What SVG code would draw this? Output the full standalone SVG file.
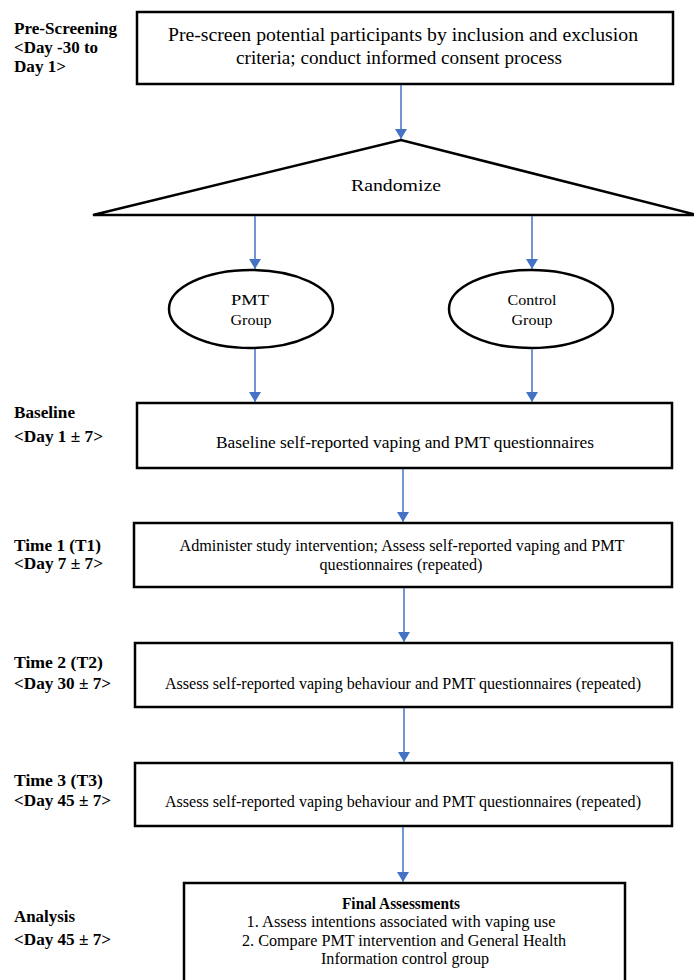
<svg xmlns="http://www.w3.org/2000/svg" width="694" height="980" viewBox="0 0 694 980">
<defs>
<style>
.box{fill:#fff;stroke:#000;stroke-width:2.5}
.t{font-family:"Liberation Serif","Times New Roman",serif;fill:#000;text-anchor:middle}
.lbl{font-family:"Liberation Serif","Times New Roman",serif;font-weight:bold;font-size:16px;fill:#000}
.c{stroke:#4472C4;stroke-width:1.5;fill:none;marker-end:url(#ah)}
</style>
<marker id="ah" viewBox="0 0 10 12" refX="10" refY="6" markerWidth="10" markerHeight="12" markerUnits="userSpaceOnUse" orient="auto">
<path d="M0,0 L10,6 L0,12 Z" fill="#4472C4"/>
</marker>
</defs>
<rect width="694" height="980" fill="#fff"/>

<g id="labels">
<text class="lbl" x="14" y="34" textLength="103" lengthAdjust="spacingAndGlyphs">Pre-Screening</text>
<text class="lbl" x="14" y="53" textLength="84" lengthAdjust="spacingAndGlyphs">&lt;Day -30 to</text>
<text class="lbl" x="14" y="72" textLength="52" lengthAdjust="spacingAndGlyphs">Day 1&gt;</text>
<text class="lbl" x="14" y="418" textLength="61" lengthAdjust="spacingAndGlyphs">Baseline</text>
<text class="lbl" x="14" y="442" textLength="89" lengthAdjust="spacingAndGlyphs">&lt;Day 1 ± 7&gt;</text>
<text class="lbl" x="14" y="551" textLength="87" lengthAdjust="spacingAndGlyphs">Time 1 (T1)</text>
<text class="lbl" x="14" y="569" textLength="89" lengthAdjust="spacingAndGlyphs">&lt;Day 7 ± 7&gt;</text>
<text class="lbl" x="14" y="668" textLength="89" lengthAdjust="spacingAndGlyphs">Time 2 (T2)</text>
<text class="lbl" x="14" y="689" textLength="97" lengthAdjust="spacingAndGlyphs">&lt;Day 30 ± 7&gt;</text>
<text class="lbl" x="14" y="786" textLength="89" lengthAdjust="spacingAndGlyphs">Time 3 (T3)</text>
<text class="lbl" x="14" y="806" textLength="97" lengthAdjust="spacingAndGlyphs">&lt;Day 45 ± 7&gt;</text>
<text class="lbl" x="14" y="922" textLength="61" lengthAdjust="spacingAndGlyphs">Analysis</text>
<text class="lbl" x="14" y="945" textLength="97" lengthAdjust="spacingAndGlyphs">&lt;Day 45 ± 7&gt;</text>
</g>

<g id="prescreen">
<rect class="box" x="137" y="12" width="536" height="72"/>
<text class="t" x="403" y="41" font-size="18" textLength="470" lengthAdjust="spacingAndGlyphs">Pre-screen potential participants by inclusion and exclusion</text>
<text class="t" x="399" y="64" font-size="18" textLength="326" lengthAdjust="spacingAndGlyphs">criteria; conduct informed consent process</text>
</g>

<g id="randomize">
<polygon points="93,215 401,140 697,215" fill="#fff" stroke="#000" stroke-width="2.5" stroke-linejoin="miter"/>
<text class="t" x="396" y="191" font-size="17" textLength="90" lengthAdjust="spacingAndGlyphs">Randomize</text>
</g>

<g id="pmt">
<ellipse cx="251" cy="309" rx="82" ry="39" fill="#fff" stroke="#000" stroke-width="2.5"/>
<text class="t" x="250" y="305" font-size="15" textLength="38" lengthAdjust="spacingAndGlyphs">PMT</text>
<text class="t" x="251" y="325" font-size="15" textLength="41" lengthAdjust="spacingAndGlyphs">Group</text>
</g>

<g id="control">
<ellipse cx="531" cy="309" rx="82" ry="39" fill="#fff" stroke="#000" stroke-width="2.5"/>
<text class="t" x="532" y="305" font-size="15" textLength="49" lengthAdjust="spacingAndGlyphs">Control</text>
<text class="t" x="532" y="325" font-size="15" textLength="41" lengthAdjust="spacingAndGlyphs">Group</text>
</g>

<g id="baseline">
<rect class="box" x="137" y="403" width="535" height="65"/>
<text class="t" x="405" y="448" font-size="16" textLength="378" lengthAdjust="spacingAndGlyphs">Baseline self-reported vaping and PMT questionnaires</text>
</g>

<g id="t1">
<rect class="box" x="134" y="523" width="538" height="64"/>
<text class="t" x="402" y="551" font-size="16" textLength="445" lengthAdjust="spacingAndGlyphs">Administer study intervention; Assess self-reported vaping and PMT</text>
<text class="t" x="401" y="570" font-size="16" textLength="163" lengthAdjust="spacingAndGlyphs">questionnaires (repeated)</text>
</g>

<g id="t2">
<rect class="box" x="135" y="643" width="537" height="64"/>
<text class="t" x="403" y="689" font-size="16" textLength="476" lengthAdjust="spacingAndGlyphs">Assess self-reported vaping behaviour and PMT questionnaires (repeated)</text>
</g>

<g id="t3">
<rect class="box" x="135" y="763" width="537" height="63"/>
<text class="t" x="403" y="807" font-size="16" textLength="476" lengthAdjust="spacingAndGlyphs">Assess self-reported vaping behaviour and PMT questionnaires (repeated)</text>
</g>

<g id="final">
<rect class="box" x="184" y="883" width="441" height="110"/>
<text class="t" x="401" y="909" font-size="16" font-weight="bold" textLength="118" lengthAdjust="spacingAndGlyphs">Final Assessments</text>
<text class="t" x="401" y="927" font-size="16" textLength="309" lengthAdjust="spacingAndGlyphs">1. Assess intentions associated with vaping use</text>
<text class="t" x="404" y="946" font-size="16" textLength="324" lengthAdjust="spacingAndGlyphs">2. Compare PMT intervention and General Health</text>
<text class="t" x="405" y="964" font-size="16" textLength="168" lengthAdjust="spacingAndGlyphs">Information control group</text>
</g>

<g id="connectors">
<line class="c" x1="401" y1="85" x2="401" y2="139"/>
<line class="c" x1="255" y1="216" x2="255" y2="269"/>
<line class="c" x1="532" y1="216" x2="532" y2="269"/>
<line class="c" x1="255" y1="349" x2="255" y2="402"/>
<line class="c" x1="532" y1="349" x2="532" y2="402"/>
<line class="c" x1="403" y1="469" x2="403" y2="522"/>
<line class="c" x1="404" y1="588" x2="404" y2="642"/>
<line class="c" x1="404" y1="708" x2="404" y2="762"/>
<line class="c" x1="403" y1="827" x2="403" y2="882"/>
</g>
</svg>
